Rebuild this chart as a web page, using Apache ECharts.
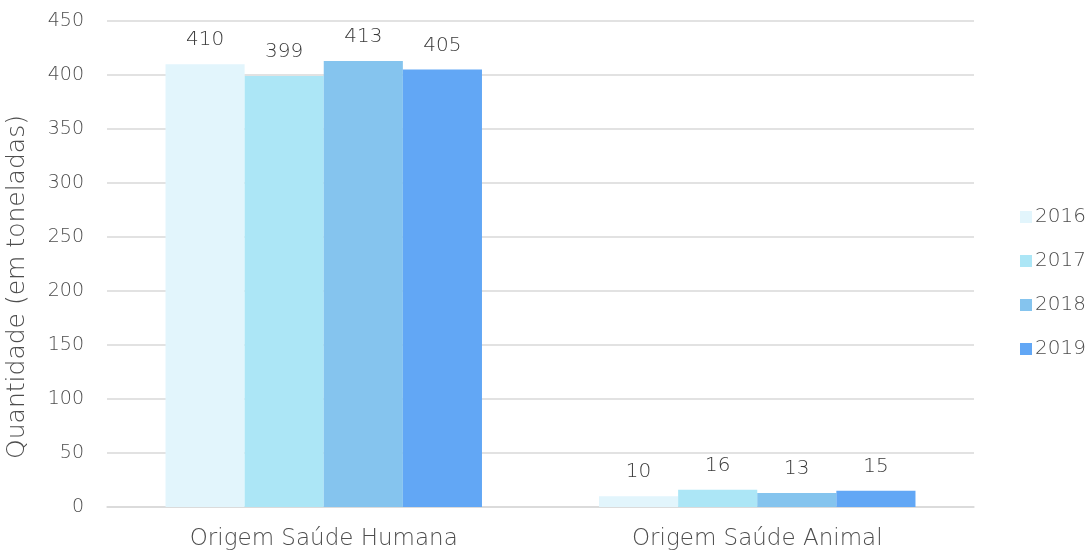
<!DOCTYPE html>
<html>
<head>
<meta charset="utf-8">
<script src="https://cdn.jsdelivr.net/npm/echarts@6/dist/echarts.min.js"></script>
<style>
  html, body { margin: 0; padding: 0; background: #fff; }
  #chart { width: 1092px; height: 551px; }
</style>
</head>
<body>
<div id="chart"></div>
<script>
const categories = ['Origem Saúde Humana', 'Origem Saúde Animal'];
const years = ['2016', '2017', '2018', '2019'];
const values2016 = [410, 10];
const values2017 = [399, 16];
const values2018 = [413, 13];
const values2019 = [405, 15];
const colors = ['#E2F5FC', '#ACE6F6', '#85C4EE', '#62A7F5'];

const font = '"DejaVu Sans", sans-serif';
const weight = 200;
const seriesData = [values2016, values2017, values2018, values2019];

const myChart = echarts.init(document.getElementById('chart'));
const option = {
  animation: false,
  grid: { left: 107, right: 118, top: 21, bottom: 44, outerBoundsMode: 'none' },
  legend: {
    orient: 'vertical',
    left: 1015,
    top: 202,
    itemWidth: 12,
    itemHeight: 12,
    itemGap: 24,
    icon: 'rect',
    textStyle: { fontFamily: font, fontWeight: weight, fontSize: 20, lineHeight: 20, color: '#4d4d4d', padding: [0, 0, 0, -2] },
    data: years
  },
  xAxis: {
    type: 'category',
    data: categories,
    axisLine: { lineStyle: { color: '#d9d9d9', width: 1.5 } },
    axisTick: { show: false },
    axisLabel: { fontFamily: font, fontWeight: weight, fontSize: 23, color: '#4d4d4d', margin: 21 }
  },
  yAxis: {
    type: 'value',
    min: 0,
    max: 450,
    interval: 50,
    name: 'Quantidade (em toneladas)',
    nameLocation: 'middle',
    nameGap: 77,
    nameTextStyle: { fontFamily: font, fontWeight: weight, fontSize: 25, color: '#4d4d4d', padding: [0, 46, 0, 0] },
    axisLabel: { fontFamily: font, fontWeight: weight, fontSize: 19, color: '#4d4d4d', margin: 23 },
    splitLine: { lineStyle: { color: '#d9d9d9', width: 1.5 } }
  },
  series: years.map((y, i) => ({
    name: y,
    type: 'bar',
    data: seriesData[i],
    barGap: '0%',
    barCategoryGap: '27%',
    itemStyle: { color: colors[i] },
    label: {
      show: true,
      position: 'top',
      distance: 14,
      fontFamily: font,
      fontWeight: weight,
      fontSize: 20,
      color: '#3a3a3a'
    }
  }))
};
myChart.setOption(option);
window.onresize = function() {
  myChart.resize();
};
</script>
</body>
</html>
